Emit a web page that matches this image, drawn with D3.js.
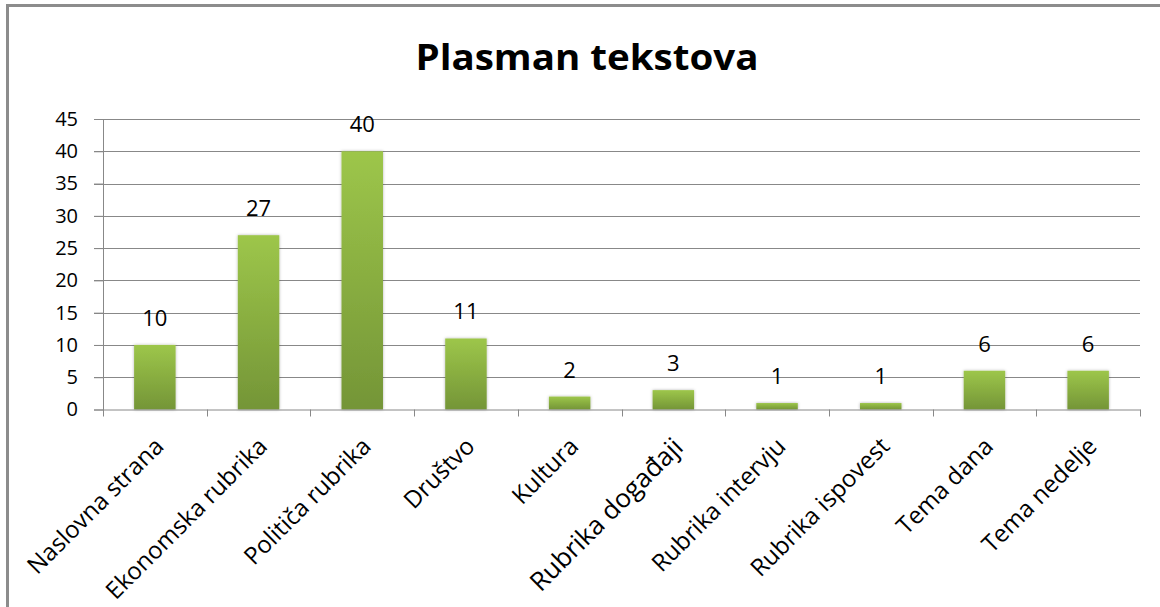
<!DOCTYPE html>
<html>
<head>
<meta charset="utf-8">
<script src="https://cdn.jsdelivr.net/npm/d3@7"></script>
<style>
  body { margin:0; background:#fff; }
  svg text { font-family: "Open Sans", Lato, sans-serif; fill:#000; }
</style>
</head>
<body>
<svg id="chart" width="1160" height="607"></svg>
<script>
// data
var categories = ["Naslovna strana","Ekonomska rubrika","Političa rubrika","Društvo","Kultura",
  "Rubrika događaji","Rubrika intervju","Rubrika ispovest","Tema dana","Tema nedelje"];
var values = [10,27,40,11,2,3,1,1,6,6];
var yTicks = [0,5,10,15,20,25,30,35,40,45];

var svg = d3.select("#chart");

// frame (only left and top edges visible)
svg.append("path")
  .attr("d","M7.5,607 L7.5,5.5 L1160,5.5")
  .attr("fill","none").attr("stroke","#8c8c8c").attr("stroke-width",3);

var margin = {left:103, top:119};
var width = 1140 - margin.left;
var height = 409.5 - margin.top;

var g = svg.append("g").attr("transform","translate("+margin.left+","+margin.top+")");

var x = d3.scaleBand().domain(categories).range([0,width]).padding(0);
var y = d3.scaleLinear().domain([0,45]).range([height,0]);

// gradient for bars
var defs = svg.append("defs");
var grad = defs.append("linearGradient").attr("id","barGrad")
  .attr("x1",0).attr("y1",0).attr("x2",0).attr("y2",1);
grad.append("stop").attr("offset","0%").attr("stop-color","#9dc64a");
grad.append("stop").attr("offset","100%").attr("stop-color","#749537");
var shadow = defs.append("filter").attr("id","shadow")
  .attr("x","-20%").attr("y","-20%").attr("width","140%").attr("height","140%");
shadow.append("feDropShadow").attr("dx",0).attr("dy",0).attr("stdDeviation",1.5)
  .attr("flood-color","#000").attr("flood-opacity",0.3);

// gridlines (extend left of the axis like tick marks)
g.selectAll(".grid").data(yTicks.slice(1)).enter().append("line")
  .attr("x1",-9).attr("x2",width)
  .attr("y1",d=>Math.round(y(d))+0.5).attr("y2",d=>Math.round(y(d))+0.5)
  .attr("stroke","#888").attr("stroke-width",1);

// y axis
var yAxis = d3.axisLeft(y).tickValues(yTicks).tickSize(9).tickPadding(16);
var yg = g.append("g").call(yAxis);
yg.select(".domain").attr("stroke","#888");
yg.selectAll(".tick line").attr("stroke","#888");
yg.selectAll(".tick text").style("font-size","20px").attr("fill","#000");

// bars
var bw = x.bandwidth()*0.4;
g.selectAll(".bar").data(values).enter().append("rect")
  .attr("x",(d,i)=>x(categories[i])+x.bandwidth()/2-bw/2)
  .attr("y",d=>y(d))
  .attr("width",bw)
  .attr("height",d=>height-y(d))
  .attr("fill","url(#barGrad)")
  .attr("filter","url(#shadow)");

// value labels
g.selectAll(".val").data(values).enter().append("text")
  .attr("x",(d,i)=>x(categories[i])+x.bandwidth()/2)
  .attr("y",d=>y(d)-19)
  .attr("text-anchor","middle")
  .style("font-size","22px")
  .text(d=>d);

// x axis
var xAxis = d3.axisBottom(x).tickSize(0).tickFormat("");
var xg = g.append("g").attr("transform","translate(0,"+height+")").call(xAxis);
xg.select(".domain").attr("stroke","#888");
var edges = d3.range(categories.length+1).map(i=>i*x.step());
xg.selectAll(".edge").data(edges).enter().append("line")
  .attr("x1",d=>Math.round(d)+0.5).attr("x2",d=>Math.round(d)+0.5)
  .attr("y1",0).attr("y2",7).attr("stroke","#888");

// rotated category labels
g.selectAll(".cat").data(categories).enter().append("text")
  .attr("transform",(d,i)=>"translate("+(x(d)+x.bandwidth()/2-2)+","+(height+26)+") rotate(-45)")
  .attr("text-anchor","end")
  .attr("dy","0.72em")
  .style("font-size",d=>d=="Rubrika događaji" ? "26px" : "24px")
  .text(d=>d);

// title
svg.append("text")
  .attr("x",587).attr("y",70)
  .attr("text-anchor","middle")
  .attr("textLength",343).attr("lengthAdjust","spacingAndGlyphs")
  .style("font-size","36px").style("font-weight","bold")
  .text("Plasman tekstova");
</script>
</body>
</html>
